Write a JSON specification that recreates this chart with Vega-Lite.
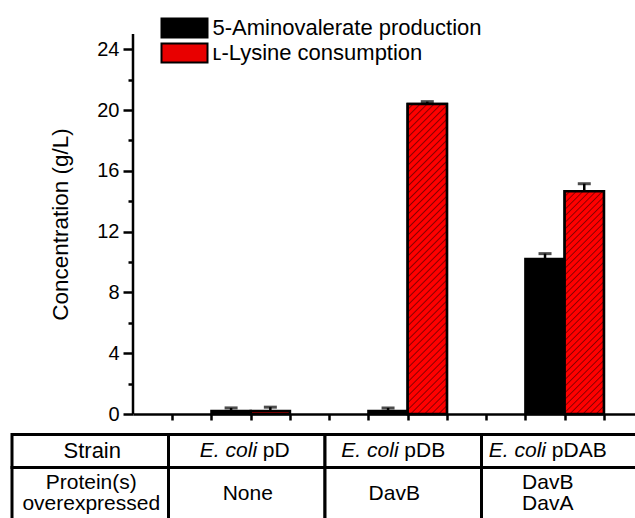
{
  "$schema": "https://vega.github.io/schema/vega-lite/v6.json",
  "width": 502,
  "height": 484,
  "autosize": {"type": "none"},
  "padding": {"left": 133, "top": 34, "right": 0, "bottom": 0},
  "config": {"view": {"stroke": null}, "font": "Liberation Sans", "axis": {"grid": false}},
  "datasets": {
    "bars": [
      {"strain": "pD", "series": "5-Aminovalerate production", "value": 0.2, "upper": 0.4},
      {"strain": "pD", "series": "ʟ-Lysine consumption", "value": 0.2, "upper": 0.45},
      {"strain": "pDB", "series": "5-Aminovalerate production", "value": 0.2, "upper": 0.4},
      {"strain": "pDB", "series": "ʟ-Lysine consumption", "value": 20.4, "upper": 20.55},
      {"strain": "pDAB", "series": "5-Aminovalerate production", "value": 10.2, "upper": 10.55},
      {"strain": "pDAB", "series": "ʟ-Lysine consumption", "value": 14.65, "upper": 15.15}
    ],
    "table": [
      {"row": "Strain", "col": "head", "text": "Strain", "ital": "", "suffix": ""},
      {"row": "Strain", "col": "pD", "text": "", "ital": "E. coli", "suffix": "pD"},
      {"row": "Strain", "col": "pDB", "text": "", "ital": "E. coli", "suffix": "pDB"},
      {"row": "Strain", "col": "pDAB", "text": "", "ital": "E. coli", "suffix": "pDAB"},
      {"row": "Protein", "col": "head", "text": "Protein(s)\noverexpressed", "ital": "", "suffix": ""},
      {"row": "Protein", "col": "pD", "text": "None", "ital": "", "suffix": ""},
      {"row": "Protein", "col": "pDB", "text": "DavB", "ital": "", "suffix": ""},
      {"row": "Protein", "col": "pDAB", "text": "DavB\nDavA", "ital": "", "suffix": ""}
    ]
  },
  "resolve": {"scale": {"x": "independent", "y": "independent"}},
  "layer": [
    {
      "data": {"name": "bars"},
      "encoding": {
        "x": {"field": "strain", "type": "nominal", "scale": {"domain": ["pD", "pDB", "pDAB"], "paddingInner": 0.5, "paddingOuter": 0.3491, "align": 0.7161}, "axis": null},
        "xOffset": {"field": "series", "type": "nominal", "scale": {"domain": ["5-Aminovalerate production", "ʟ-Lysine consumption"], "paddingInner": 0, "paddingOuter": 0}},
        "y": {"field": "value", "type": "quantitative", "scale": {"domain": [-6.842, 25], "nice": false}, "axis": null}
      },
      "layer": [
        {
          "mark": {"type": "bar", "stroke": "black", "strokeWidth": 2.5},
          "encoding": {
            "color": {
              "field": "series", "type": "nominal",
              "scale": {"domain": ["5-Aminovalerate production", "ʟ-Lysine consumption"], "range": ["black", "#e80000"]},
              "legend": {
                "orient": "none", "legendX": 40.5, "legendY": -17, "title": null, "padding": 0,
                "symbolType": "M-2.3,-0.95H2.3V0.95H-2.3Z", "symbolSize": 400,
                "symbolStrokeColor": "black", "symbolStrokeWidth": 2, "symbolOpacity": 1,
                "labelFontSize": 22, "labelColor": "black", "labelOffset": 17, "labelLimit": 0, "rowPadding": -4
              }
            }
          }
        },
        {
          "transform": [{"filter": "datum.strain == 'pDB' && datum.series != '5-Aminovalerate production'"}],
          "mark": {
            "type": "bar", "stroke": "black", "strokeWidth": 2.5,
            "fill": {
              "gradient": "linear", "x1": 0, "y1": 0, "x2": 0.1403, "y2": 1.1088,
              "stops": [
                {"offset": 0, "color": "#f00"}, {"offset": 0.012, "color": "#f00"}, {"offset": 0.016, "color": "#800"},
                {"offset": 0.02, "color": "#f00"}, {"offset": 0.032, "color": "#f00"}, {"offset": 0.036, "color": "#800"},
                {"offset": 0.04, "color": "#f00"}, {"offset": 0.052, "color": "#f00"}, {"offset": 0.056, "color": "#800"},
                {"offset": 0.06, "color": "#f00"}, {"offset": 0.072, "color": "#f00"}, {"offset": 0.076, "color": "#800"},
                {"offset": 0.08, "color": "#f00"}, {"offset": 0.092, "color": "#f00"}, {"offset": 0.096, "color": "#800"},
                {"offset": 0.1, "color": "#f00"}, {"offset": 0.112, "color": "#f00"}, {"offset": 0.116, "color": "#800"},
                {"offset": 0.12, "color": "#f00"}, {"offset": 0.132, "color": "#f00"}, {"offset": 0.136, "color": "#800"},
                {"offset": 0.14, "color": "#f00"}, {"offset": 0.152, "color": "#f00"}, {"offset": 0.156, "color": "#800"},
                {"offset": 0.16, "color": "#f00"}, {"offset": 0.172, "color": "#f00"}, {"offset": 0.176, "color": "#800"},
                {"offset": 0.18, "color": "#f00"}, {"offset": 0.192, "color": "#f00"}, {"offset": 0.196, "color": "#800"},
                {"offset": 0.2, "color": "#f00"}, {"offset": 0.212, "color": "#f00"}, {"offset": 0.216, "color": "#800"},
                {"offset": 0.22, "color": "#f00"}, {"offset": 0.232, "color": "#f00"}, {"offset": 0.236, "color": "#800"},
                {"offset": 0.24, "color": "#f00"}, {"offset": 0.252, "color": "#f00"}, {"offset": 0.256, "color": "#800"},
                {"offset": 0.26, "color": "#f00"}, {"offset": 0.272, "color": "#f00"}, {"offset": 0.276, "color": "#800"},
                {"offset": 0.28, "color": "#f00"}, {"offset": 0.292, "color": "#f00"}, {"offset": 0.296, "color": "#800"},
                {"offset": 0.3, "color": "#f00"}, {"offset": 0.312, "color": "#f00"}, {"offset": 0.316, "color": "#800"},
                {"offset": 0.32, "color": "#f00"}, {"offset": 0.332, "color": "#f00"}, {"offset": 0.336, "color": "#800"},
                {"offset": 0.34, "color": "#f00"}, {"offset": 0.352, "color": "#f00"}, {"offset": 0.356, "color": "#800"},
                {"offset": 0.36, "color": "#f00"}, {"offset": 0.372, "color": "#f00"}, {"offset": 0.376, "color": "#800"},
                {"offset": 0.38, "color": "#f00"}, {"offset": 0.392, "color": "#f00"}, {"offset": 0.396, "color": "#800"},
                {"offset": 0.4, "color": "#f00"}, {"offset": 0.412, "color": "#f00"}, {"offset": 0.416, "color": "#800"},
                {"offset": 0.42, "color": "#f00"}, {"offset": 0.432, "color": "#f00"}, {"offset": 0.436, "color": "#800"},
                {"offset": 0.44, "color": "#f00"}, {"offset": 0.452, "color": "#f00"}, {"offset": 0.456, "color": "#800"},
                {"offset": 0.46, "color": "#f00"}, {"offset": 0.472, "color": "#f00"}, {"offset": 0.476, "color": "#800"},
                {"offset": 0.48, "color": "#f00"}, {"offset": 0.492, "color": "#f00"}, {"offset": 0.496, "color": "#800"},
                {"offset": 0.5, "color": "#f00"}, {"offset": 0.512, "color": "#f00"}, {"offset": 0.516, "color": "#800"},
                {"offset": 0.52, "color": "#f00"}, {"offset": 0.532, "color": "#f00"}, {"offset": 0.536, "color": "#800"},
                {"offset": 0.54, "color": "#f00"}, {"offset": 0.552, "color": "#f00"}, {"offset": 0.556, "color": "#800"},
                {"offset": 0.56, "color": "#f00"}, {"offset": 0.572, "color": "#f00"}, {"offset": 0.576, "color": "#800"},
                {"offset": 0.58, "color": "#f00"}, {"offset": 0.592, "color": "#f00"}, {"offset": 0.596, "color": "#800"},
                {"offset": 0.6, "color": "#f00"}, {"offset": 0.612, "color": "#f00"}, {"offset": 0.616, "color": "#800"},
                {"offset": 0.62, "color": "#f00"}, {"offset": 0.632, "color": "#f00"}, {"offset": 0.636, "color": "#800"},
                {"offset": 0.64, "color": "#f00"}, {"offset": 0.652, "color": "#f00"}, {"offset": 0.656, "color": "#800"},
                {"offset": 0.66, "color": "#f00"}, {"offset": 0.672, "color": "#f00"}, {"offset": 0.676, "color": "#800"},
                {"offset": 0.68, "color": "#f00"}, {"offset": 0.692, "color": "#f00"}, {"offset": 0.696, "color": "#800"},
                {"offset": 0.7, "color": "#f00"}, {"offset": 0.712, "color": "#f00"}, {"offset": 0.716, "color": "#800"},
                {"offset": 0.72, "color": "#f00"}, {"offset": 0.732, "color": "#f00"}, {"offset": 0.736, "color": "#800"},
                {"offset": 0.74, "color": "#f00"}, {"offset": 0.752, "color": "#f00"}, {"offset": 0.756, "color": "#800"},
                {"offset": 0.76, "color": "#f00"}, {"offset": 0.772, "color": "#f00"}, {"offset": 0.776, "color": "#800"},
                {"offset": 0.78, "color": "#f00"}, {"offset": 0.792, "color": "#f00"}, {"offset": 0.796, "color": "#800"},
                {"offset": 0.8, "color": "#f00"}, {"offset": 0.812, "color": "#f00"}, {"offset": 0.816, "color": "#800"},
                {"offset": 0.82, "color": "#f00"}, {"offset": 0.832, "color": "#f00"}, {"offset": 0.836, "color": "#800"},
                {"offset": 0.84, "color": "#f00"}, {"offset": 0.852, "color": "#f00"}, {"offset": 0.856, "color": "#800"},
                {"offset": 0.86, "color": "#f00"}, {"offset": 0.872, "color": "#f00"}, {"offset": 0.876, "color": "#800"},
                {"offset": 0.88, "color": "#f00"}, {"offset": 0.892, "color": "#f00"}, {"offset": 0.896, "color": "#800"},
                {"offset": 0.9, "color": "#f00"}, {"offset": 0.912, "color": "#f00"}, {"offset": 0.916, "color": "#800"},
                {"offset": 0.92, "color": "#f00"}, {"offset": 0.932, "color": "#f00"}, {"offset": 0.936, "color": "#800"},
                {"offset": 0.94, "color": "#f00"}, {"offset": 0.952, "color": "#f00"}, {"offset": 0.956, "color": "#800"},
                {"offset": 0.96, "color": "#f00"}, {"offset": 0.972, "color": "#f00"}, {"offset": 0.976, "color": "#800"},
                {"offset": 0.98, "color": "#f00"}, {"offset": 0.992, "color": "#f00"}, {"offset": 0.996, "color": "#800"},
                {"offset": 1, "color": "#f00"}
              ]
            }
          }
        },
        {
          "transform": [{"filter": "datum.strain == 'pDAB' && datum.series != '5-Aminovalerate production'"}],
          "mark": {
            "type": "bar", "stroke": "black", "strokeWidth": 2.5,
            "fill": {
              "gradient": "linear", "x1": 0, "y1": 0, "x2": 0.201, "y2": 1.1408,
              "stops": [
                {"offset": 0, "color": "#f00"}, {"offset": 0.015, "color": "#f00"}, {"offset": 0.02, "color": "#800"},
                {"offset": 0.025, "color": "#f00"}, {"offset": 0.04, "color": "#f00"}, {"offset": 0.045, "color": "#800"},
                {"offset": 0.05, "color": "#f00"}, {"offset": 0.065, "color": "#f00"}, {"offset": 0.07, "color": "#800"},
                {"offset": 0.075, "color": "#f00"}, {"offset": 0.09, "color": "#f00"}, {"offset": 0.095, "color": "#800"},
                {"offset": 0.1, "color": "#f00"}, {"offset": 0.115, "color": "#f00"}, {"offset": 0.12, "color": "#800"},
                {"offset": 0.125, "color": "#f00"}, {"offset": 0.14, "color": "#f00"}, {"offset": 0.145, "color": "#800"},
                {"offset": 0.15, "color": "#f00"}, {"offset": 0.165, "color": "#f00"}, {"offset": 0.17, "color": "#800"},
                {"offset": 0.175, "color": "#f00"}, {"offset": 0.19, "color": "#f00"}, {"offset": 0.195, "color": "#800"},
                {"offset": 0.2, "color": "#f00"}, {"offset": 0.215, "color": "#f00"}, {"offset": 0.22, "color": "#800"},
                {"offset": 0.225, "color": "#f00"}, {"offset": 0.24, "color": "#f00"}, {"offset": 0.245, "color": "#800"},
                {"offset": 0.25, "color": "#f00"}, {"offset": 0.265, "color": "#f00"}, {"offset": 0.27, "color": "#800"},
                {"offset": 0.275, "color": "#f00"}, {"offset": 0.29, "color": "#f00"}, {"offset": 0.295, "color": "#800"},
                {"offset": 0.3, "color": "#f00"}, {"offset": 0.315, "color": "#f00"}, {"offset": 0.32, "color": "#800"},
                {"offset": 0.325, "color": "#f00"}, {"offset": 0.34, "color": "#f00"}, {"offset": 0.345, "color": "#800"},
                {"offset": 0.35, "color": "#f00"}, {"offset": 0.365, "color": "#f00"}, {"offset": 0.37, "color": "#800"},
                {"offset": 0.375, "color": "#f00"}, {"offset": 0.39, "color": "#f00"}, {"offset": 0.395, "color": "#800"},
                {"offset": 0.4, "color": "#f00"}, {"offset": 0.415, "color": "#f00"}, {"offset": 0.42, "color": "#800"},
                {"offset": 0.425, "color": "#f00"}, {"offset": 0.44, "color": "#f00"}, {"offset": 0.445, "color": "#800"},
                {"offset": 0.45, "color": "#f00"}, {"offset": 0.465, "color": "#f00"}, {"offset": 0.47, "color": "#800"},
                {"offset": 0.475, "color": "#f00"}, {"offset": 0.49, "color": "#f00"}, {"offset": 0.495, "color": "#800"},
                {"offset": 0.5, "color": "#f00"}, {"offset": 0.515, "color": "#f00"}, {"offset": 0.52, "color": "#800"},
                {"offset": 0.525, "color": "#f00"}, {"offset": 0.54, "color": "#f00"}, {"offset": 0.545, "color": "#800"},
                {"offset": 0.55, "color": "#f00"}, {"offset": 0.565, "color": "#f00"}, {"offset": 0.57, "color": "#800"},
                {"offset": 0.575, "color": "#f00"}, {"offset": 0.59, "color": "#f00"}, {"offset": 0.595, "color": "#800"},
                {"offset": 0.6, "color": "#f00"}, {"offset": 0.615, "color": "#f00"}, {"offset": 0.62, "color": "#800"},
                {"offset": 0.625, "color": "#f00"}, {"offset": 0.64, "color": "#f00"}, {"offset": 0.645, "color": "#800"},
                {"offset": 0.65, "color": "#f00"}, {"offset": 0.665, "color": "#f00"}, {"offset": 0.67, "color": "#800"},
                {"offset": 0.675, "color": "#f00"}, {"offset": 0.69, "color": "#f00"}, {"offset": 0.695, "color": "#800"},
                {"offset": 0.7, "color": "#f00"}, {"offset": 0.715, "color": "#f00"}, {"offset": 0.72, "color": "#800"},
                {"offset": 0.725, "color": "#f00"}, {"offset": 0.74, "color": "#f00"}, {"offset": 0.745, "color": "#800"},
                {"offset": 0.75, "color": "#f00"}, {"offset": 0.765, "color": "#f00"}, {"offset": 0.77, "color": "#800"},
                {"offset": 0.775, "color": "#f00"}, {"offset": 0.79, "color": "#f00"}, {"offset": 0.795, "color": "#800"},
                {"offset": 0.8, "color": "#f00"}, {"offset": 0.815, "color": "#f00"}, {"offset": 0.82, "color": "#800"},
                {"offset": 0.825, "color": "#f00"}, {"offset": 0.84, "color": "#f00"}, {"offset": 0.845, "color": "#800"},
                {"offset": 0.85, "color": "#f00"}, {"offset": 0.865, "color": "#f00"}, {"offset": 0.87, "color": "#800"},
                {"offset": 0.875, "color": "#f00"}, {"offset": 0.89, "color": "#f00"}, {"offset": 0.895, "color": "#800"},
                {"offset": 0.9, "color": "#f00"}, {"offset": 0.915, "color": "#f00"}, {"offset": 0.92, "color": "#800"},
                {"offset": 0.925, "color": "#f00"}, {"offset": 0.94, "color": "#f00"}, {"offset": 0.945, "color": "#800"},
                {"offset": 0.95, "color": "#f00"}, {"offset": 0.965, "color": "#f00"}, {"offset": 0.97, "color": "#800"},
                {"offset": 0.975, "color": "#f00"}, {"offset": 0.99, "color": "#f00"}, {"offset": 0.995, "color": "#800"},
                {"offset": 1, "color": "#f00"}
              ]
            }
          }
        },
        {
          "mark": {"type": "rule", "color": "black", "strokeWidth": 2.5},
          "encoding": {"y2": {"field": "upper"}}
        },
        {
          "mark": {"type": "tick", "color": "black", "thickness": 3, "size": 13},
          "encoding": {"y": {"field": "upper", "type": "quantitative", "axis": null}}
        }
      ]
    },
    {
      "data": {"values": [{}]},
      "mark": {"type": "rule", "color": "black", "strokeWidth": 2.5},
      "encoding": {
        "x": {
          "datum": 0, "type": "quantitative",
          "scale": {"domain": [0, 12.793], "nice": false, "zero": false},
          "axis": {
            "title": null, "values": [1, 2, 3, 4, 5, 6, 7, 8, 9, 10, 11, 12], "labels": false,
            "offset": -104, "domainColor": "black", "domainWidth": 2.5,
            "tickColor": "black", "tickWidth": 2.5, "tickSize": 6, "grid": false
          }
        },
        "y": {
          "datum": 0, "type": "quantitative",
          "scale": {"domain": [-6.842, 25], "nice": false},
          "axis": {
            "title": "Concentration (g/L)",
            "titleY": 190,
            "values": [0, 2, 4, 6, 8, 10, 12, 14, 16, 18, 20, 22, 24],
            "labelExpr": "datum.value % 4 == 0 ? datum.label : ''",
            "domain": false,
            "tickColor": "black",
            "tickWidth": 2.5,
            "tickSize": {"condition": {"test": "datum.value % 4 == 0", "value": 10}, "value": 5},
            "labelPadding": 4,
            "labelFontSize": 20,
            "labelColor": "black",
            "titleFontSize": 22.5,
            "titleFontWeight": "normal",
            "titleColor": "black",
            "titlePadding": 24,
            "grid": false
          }
        },
        "y2": {"datum": 25}
      }
    },
    {
      "data": {"name": "table"},
      "transform": [{"filter": "datum.row == 'Strain'"}],
      "encoding": {
        "x": {"field": "col", "type": "nominal", "scale": {"domain": ["head", "pD", "pDB", "pDAB"], "range": [-121, 505], "paddingInner": 0, "paddingOuter": 0}, "axis": null},
        "y": {"field": "row", "type": "nominal", "scale": {"domain": ["Strain"], "range": [400.5, 433.5], "paddingInner": 0, "paddingOuter": 0}, "axis": null}
      },
      "layer": [
        {"mark": {"type": "rect", "fill": "white", "stroke": "black", "strokeWidth": 3}},
        {"mark": {"type": "text", "fontSize": 22, "color": "black", "dx": 2}, "encoding": {"text": {"field": "text"}}},
        {"mark": {"type": "text", "fontSize": 21, "color": "black", "fontStyle": "italic", "align": "right", "dx": {"expr": "datum.suffix == 'pD' ? 10.3 : datum.suffix == 'pDB' ? -4.7 : -13.75"}}, "encoding": {"text": {"field": "ital"}}},
        {"mark": {"type": "text", "fontSize": 21, "color": "black", "align": "left", "dx": {"expr": "datum.suffix == 'pD' ? 16.1 : datum.suffix == 'pDB' ? 1.1 : -7.95"}}, "encoding": {"text": {"field": "suffix"}}}
      ]
    },
    {
      "data": {"name": "table"},
      "transform": [{"filter": "datum.row == 'Protein'"}],
      "encoding": {
        "x": {"field": "col", "type": "nominal", "scale": {"domain": ["head", "pD", "pDB", "pDAB"], "range": [-121, 505], "paddingInner": 0, "paddingOuter": 0}, "axis": null},
        "y": {"field": "row", "type": "nominal", "scale": {"domain": ["Protein"], "range": [433.5, 486], "paddingInner": 0, "paddingOuter": 0}, "axis": null}
      },
      "layer": [
        {"mark": {"type": "rect", "fill": "white", "stroke": "black", "strokeWidth": 3}},
        {"mark": {"type": "text", "fontSize": 21, "color": "black", "lineBreak": "\n", "lineHeight": 21, "dx": {"expr": "datum.col == 'pDB' ? -9 : datum.col == 'pDAB' ? -12 : 1"}, "dy": {"expr": "datum.col == 'head' || datum.col == 'pDAB' ? -10.5 : 0"}}, "encoding": {"text": {"field": "text"}}}
      ]
    }
  ]
}
